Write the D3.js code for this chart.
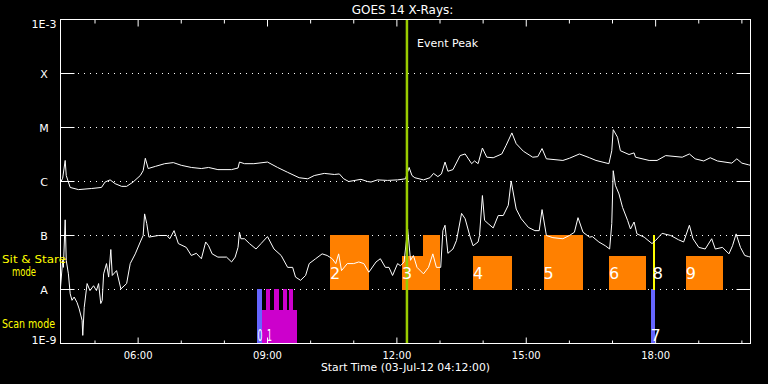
<!DOCTYPE html>
<html>
<head>
<meta charset="utf-8">
<script src="https://cdn.jsdelivr.net/npm/d3@7"></script>
<style>
  html, body { margin: 0; padding: 0; background: #000; }
  svg { display: block; }
  text { font-family: 'DejaVu Sans', sans-serif; fill: #fff; }
</style>
</head>
<body>
<svg id="chart"></svg>
<script>
// GOES 14 X-ray flux, minutes after 04:12 UT, log10(W/m^2)
const longTime = [0,3,6.5,8,13.5,25,43,57,62,69,76,85,92,101,111,115,118,122,132,145,157,168,182,196,206,219,238,247,249,256,269,288,302,316,332,344,353,367,381,388,394,401,418,427,432,441,455,469,480,485,489,493,505,514,519,525,530,535,539,546,556,563,572,576,581,587,593,602,614,620,628,634,644,657,664,670,676,699,708,722,736,745,763,767,769,775,779,791,798,800,819,830,842,865,875,883,895,904,914,934,941,948,957,960]
const longFlux = [-6.02,-5.94,-5.61,-5.89,-6.11,-6.15,-6.13,-6.11,-6.01,-5.97,-6.04,-6.09,-6.09,-6.01,-5.89,-5.80,-5.57,-5.76,-5.72,-5.67,-5.65,-5.70,-5.74,-5.76,-5.74,-5.78,-5.78,-5.75,-5.64,-5.67,-5.67,-5.64,-5.74,-5.83,-5.93,-5.95,-5.89,-5.85,-5.87,-5.86,-5.95,-6.00,-5.96,-6.00,-6.01,-5.97,-5.98,-5.97,-5.95,-5.74,-5.89,-5.93,-5.97,-5.93,-5.85,-5.91,-5.86,-5.64,-5.81,-5.78,-5.52,-5.49,-5.67,-5.62,-5.67,-5.38,-5.55,-5.56,-5.49,-5.33,-5.10,-5.30,-5.44,-5.55,-5.54,-5.39,-5.58,-5.61,-5.57,-5.49,-5.56,-5.61,-5.67,-5.43,-5.04,-5.18,-5.43,-5.50,-5.47,-5.55,-5.61,-5.61,-5.52,-5.55,-5.49,-5.58,-5.62,-5.56,-5.62,-5.66,-5.58,-5.66,-5.69,-5.70]
const shortTime = [0,3,4,6.5,8,11,13.5,16,19,23,26,30,31,33,37,41,46,50,53,56,58,60,64,67,70,72,78,84,92,97,104,111,115,117,120,123,136,148,152,158,164,175,182,189,196,202,206,211,219,231,238,243,247,249,251,256,263,272,279,288,297,307,316,323,327,334,341,346,355,364,371,378,383,387,391,399,408,415,422,429,439,445,452,457,462,469,473,478,483,487,491,496,505,512,518,523,529,532,535,539,546,551,558,563,570,574,581,583,587,590,595,602,609,616,623,627,634,641,651,660,666,670,676,685,699,708,715,720,727,736,740,749,758,764,767,769,772,777,782,789,793,798,802,812,823,828,837,849,860,867,875,880,888,897,906,911,921,930,935,940,946,952,957,960]
const shortFlux = [-7.96,-7.46,-7.59,-6.71,-7.46,-7.71,-8.08,-8.20,-8.14,-8.24,-8.36,-8.57,-8.85,-8.33,-7.89,-8.02,-7.93,-8.02,-7.89,-8.26,-8.20,-7.71,-7.52,-7.77,-7.26,-7.74,-7.65,-7.99,-7.89,-7.52,-7.34,-7.12,-7.00,-6.60,-6.78,-7.03,-7.00,-7.00,-7.06,-6.91,-7.15,-7.22,-7.37,-7.33,-7.43,-7.12,-7.19,-7.34,-7.40,-7.40,-7.49,-7.40,-7.22,-6.94,-7.06,-7.06,-7.15,-7.25,-7.15,-7.02,-7.25,-7.37,-7.59,-7.59,-7.77,-7.83,-7.74,-7.52,-7.43,-7.34,-7.37,-7.43,-7.52,-7.34,-7.65,-7.52,-7.52,-7.49,-7.52,-7.68,-7.49,-7.43,-7.59,-7.59,-7.74,-7.52,-7.56,-7.49,-6.88,-7.46,-7.37,-7.59,-7.71,-7.59,-7.34,-7.59,-7.59,-6.91,-6.81,-7.33,-7.25,-7.09,-6.59,-6.69,-7.03,-7.19,-7.12,-7.00,-6.26,-6.72,-6.78,-6.86,-6.63,-6.63,-6.44,-5.99,-6.51,-6.69,-6.85,-6.91,-6.91,-6.52,-7.00,-7.04,-7.06,-7.00,-6.94,-6.67,-6.94,-7.03,-7.02,-7.12,-7.19,-7.25,-6.78,-5.80,-6.07,-6.23,-6.48,-6.72,-6.88,-6.75,-6.97,-7.03,-7.15,-7.09,-6.96,-7.00,-7.08,-7.12,-6.81,-7.06,-7.22,-7.25,-7.06,-7.25,-7.22,-7.34,-7.19,-6.97,-7.22,-7.37,-7.39,-7.40]

// observations: minutes after start, mode row, type, fraction of the row filled
const obsLabels = ['0','1','2','3','4','5','6','7','8','9']
const obsMode = ['scan','scan','stare','stare','stare','stare','stare','scan','stare','stare']
const obsType = ['short','raster','long','long','long','long','long','short','point','long']
const obsStart = [274,281,375,475,574,672,763,821,824,870]
const obsEnd = [281,330,429,528,628,726,815,826,827,922]
const obsLevel = [1,0.61,1,0.61,0.61,1,0.61,1,1,0.61]
// extra unlabelled pieces of obs 1 and 3
const subOf = ['1','1','1','1','3']
const subStart = [286,297,309,318,504]
const subEnd = [292,304,315,324,528]
const subLevel = [1,1,1,1,1]

const eventPeak = 482
const yTickValues = [1e-9,1e-8,1e-7,1e-6,1e-5,1e-4,1e-3]
const yTickLabels = ['1E-9','A','B','C','M','X','1E-3']

const width = 768
const height = 384
const margin = { top: 19.5, right: 17.5, bottom: 40.5, left: 60.5 }
const t0 = Date.UTC(2012, 6, 3, 4, 12)
const toDate = (m) => new Date(t0 + m * 60000)

const x = d3.scaleUtc().domain([toDate(0), toDate(960)]).range([margin.left, width - margin.right])
const y = d3.scaleLog().domain([1e-9, 1e-3]).range([height - margin.bottom, margin.top])
const x0 = margin.left
const x1 = width - margin.right
const yTop = margin.top
const yBot = height - margin.bottom

const color = d3.scaleOrdinal()
  .domain(['short','raster','long','point'])
  .range(['#6666ff','#cc00cc','#ff8000','#ffff00'])
const rowBase = { scan: 1e-9, stare: 1e-8 }

const svg = d3.select('#chart').attr('width', width).attr('height', height)
svg.append('rect').attr('width', width).attr('height', height).attr('fill', '#000')

// dotted grid
svg.append('g').selectAll('line')
  .data(yTickValues.slice(1, -1))
  .join('line')
  .attr('x1', x0 + 17.5).attr('x2', x1 - 14)
  .attr('y1', (d) => y(d)).attr('y2', (d) => y(d))
  .attr('stroke', '#fff').attr('stroke-dasharray', '1,5')

// observation boxes
const boxes = obsLabels.map((id, i) => ({ id, mode: obsMode[i], type: obsType[i], s: obsStart[i], e: obsEnd[i], level: obsLevel[i] }))
const subs = subOf.map((id, i) => {
  const o = boxes.find((b) => b.id === id)
  return { id, mode: o.mode, type: o.type, s: subStart[i], e: subEnd[i], level: subLevel[i] }
})
const boxTop = (b) => Math.round(y(rowBase[b.mode] * Math.pow(10, b.level)) - 0.5)
const boxBot = (b) => Math.round(y(rowBase[b.mode]) + 0.5)
svg.append('g').selectAll('rect')
  .data(boxes.concat(subs))
  .join('rect')
  .attr('x', (d) => Math.round(x(toDate(d.s))))
  .attr('width', (d) => Math.max(2, Math.round(x(toDate(d.e)) - x(toDate(d.s)))))
  .attr('y', boxTop)
  .attr('height', (d) => boxBot(d) - boxTop(d))
  .attr('fill', (d) => color(d.type))

// flux curves
const line = d3.line().x((d) => x(toDate(d[0]))).y((d) => y(Math.pow(10, d[1])))
const curves = [d3.zip(longTime, longFlux), d3.zip(shortTime, shortFlux)]
svg.append('g').selectAll('path')
  .data(curves)
  .join('path')
  .attr('d', line)
  .attr('fill', 'none')
  .attr('stroke', '#fff')
  .attr('stroke-width', 1)

// event peak
svg.append('line')
  .attr('x1', x(toDate(eventPeak))).attr('x2', x(toDate(eventPeak)))
  .attr('y1', yTop).attr('y2', yBot)
  .attr('stroke', '#99cc00').attr('stroke-width', 2.5)
svg.append('text')
  .attr('x', x(toDate(eventPeak)) + 10).attr('y', 47)
  .attr('font-size', 11)
  .text('Event Peak')

// box labels; 0 and 1 sit side by side so they are kept narrow
const narrow = (d) => d.id === '0' || d.id === '1'
const labels = svg.append('g').selectAll('text')
  .data(boxes)
  .join('text')
  .attr('x', (d) => x(toDate(d.s)) + (d.id === '1' ? 4.5 : 0))
  .attr('y', (d) => (d.mode === 'stare' ? y(rowBase.stare) - 11 : y(rowBase.scan) - 3))
  .attr('font-size', 16)
  .text((d) => d.id)
labels.filter(narrow).attr('textLength', 5).attr('lengthAdjust', 'spacingAndGlyphs')

// frame
svg.append('rect')
  .attr('x', x0).attr('y', yTop).attr('width', x1 - x0).attr('height', yBot - yTop)
  .attr('fill', 'none').attr('stroke', '#fff')

// y ticks both sides
const yTicks = svg.append('g')
yTicks.selectAll('line.l').data(yTickValues).join('line').attr('class', 'l')
  .attr('x1', x0).attr('x2', x0 + 14).attr('y1', (d) => y(d)).attr('y2', (d) => y(d)).attr('stroke', '#fff')
yTicks.selectAll('line.r').data(yTickValues).join('line').attr('class', 'r')
  .attr('x1', x1 - 14).attr('x2', x1).attr('y1', (d) => y(d)).attr('y2', (d) => y(d)).attr('stroke', '#fff')
yTicks.selectAll('text').data(yTickValues).join('text')
  .attr('x', 44)
  .attr('y', (d, i) => (i === 0 ? y(d) : i === yTickValues.length - 1 ? y(d) + 8 : y(d) + 4))
  .attr('text-anchor', 'middle')
  .attr('font-size', 11)
  .text((d, i) => yTickLabels[i])

// x ticks top and bottom
const hours = d3.utcHour.range(toDate(1), toDate(960))
const isMajor = (d) => d.getUTCHours() % 3 === 0
const xTicks = svg.append('g')
xTicks.selectAll('line.b').data(hours).join('line').attr('class', 'b')
  .attr('x1', (d) => x(d)).attr('x2', (d) => x(d))
  .attr('y1', yBot).attr('y2', (d) => yBot - (isMajor(d) ? 6 : 3)).attr('stroke', '#fff')
xTicks.selectAll('line.t').data(hours).join('line').attr('class', 't')
  .attr('x1', (d) => x(d)).attr('x2', (d) => x(d))
  .attr('y1', yTop).attr('y2', (d) => yTop + (isMajor(d) ? 7 : 4)).attr('stroke', '#fff')
xTicks.selectAll('text').data(hours.filter(isMajor)).join('text')
  .attr('x', (d) => x(d)).attr('y', 358.5)
  .attr('text-anchor', 'middle')
  .attr('font-size', 10)
  .text(d3.utcFormat('%H:%M'))

svg.append('text')
  .attr('x', (x0 + x1) / 2 - 3).attr('y', 13.5)
  .attr('text-anchor', 'middle')
  .attr('font-size', 12)
  .text('GOES 14 X-Rays:')
svg.append('text')
  .attr('x', (x0 + x1) / 2).attr('y', 371)
  .attr('text-anchor', 'middle')
  .attr('font-size', 10)
  .attr('textLength', 169).attr('lengthAdjust', 'spacingAndGlyphs')
  .text('Start Time (03-Jul-12 04:12:00)')

// mode labels
const modeText = [['Sit & Stare', 2, 262.5, 64, 10.5], ['mode', 12, 276, 24, 11.5], ['Scan mode', 2, 328, 53, 11.5]]
svg.append('g').selectAll('text')
  .data(modeText)
  .join('text')
  .attr('x', (d) => d[1]).attr('y', (d) => d[2])
  .attr('font-size', (d) => d[4])
  .attr('textLength', (d) => d[3]).attr('lengthAdjust', 'spacingAndGlyphs')
  .style('fill', '#ffff00')
  .text((d) => d[0])
</script>
</body>
</html>
